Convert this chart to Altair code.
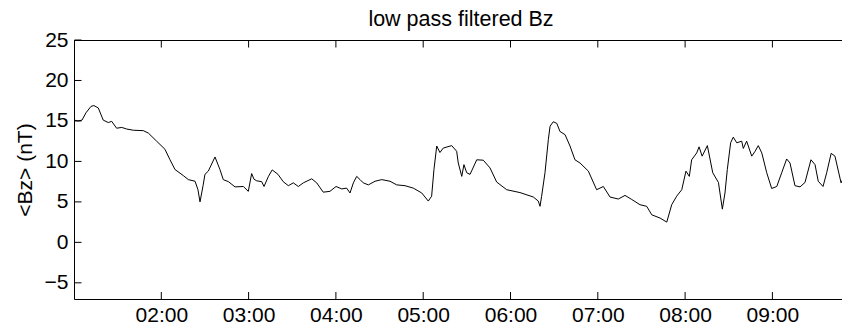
import altair as alt
import pandas as pd

# minutes after 01:00
minutes = [0.3, 2.7, 5.5, 8.2, 11.7, 13.7, 16.7, 20.1, 23.6, 25.9, 29.3, 32.8, 36.2, 40.8,
           47.6, 51.1, 56.8, 62.5, 66.0, 69.4, 75.1, 78.6, 83.2, 85.2, 86.6, 88.7, 90.0,
           92.3, 96.9, 100.3, 102.6, 106.1, 110.7, 116.4, 119.8, 122.1, 123.7, 125.6,
           129.0, 130.6, 133.5, 136.2, 140.2, 143.8, 147.3, 150.7, 154.2, 157.6, 163.4,
           166.8, 171.3, 175.9, 180.1, 184.0, 187.4, 189.7, 192.0, 194.3, 196.6, 198.8,
           202.3, 206.9, 211.5, 217.2, 221.8, 227.5, 233.2, 239.0, 243.5, 245.8, 247.4,
           249.3, 251.5, 253.8, 259.6, 263.0, 264.1, 266.5, 268.0, 269.9, 272.2, 276.8,
           281.3, 285.9, 290.5, 297.4, 306.5, 315.7, 319.1, 320.3, 321.4, 323.7, 326.0,
           327.2, 329.4, 331.8, 334.0, 337.5, 340.9, 344.3, 347.8, 353.5, 359.2, 363.8,
           368.4, 374.1, 378.7, 383.3, 389.0, 393.6, 397.1, 402.8, 407.4, 410.8, 414.2,
           417.7, 420.6, 422.9, 424.5, 428.0, 429.6, 431.7, 435.3, 439.0, 442.9, 445.6,
           447.4, 449.0, 451.3, 453.1, 455.5, 458.9, 460.0, 462.3, 465.8, 468.1, 470.3,
           472.7, 476.1, 479.5, 483.0, 486.4, 489.8, 492.1, 495.5, 499.0, 502.4, 506.5,
           509.3, 511.5, 514.8, 517.3, 520.4, 523.0, 527.2, 530.6, 533.0]
bz = [15.1, 15.0, 15.1, 16.0, 16.8, 16.9, 16.6, 15.1, 14.8, 14.95, 14.1, 14.2, 14.0, 13.85,
      13.8, 13.5, 12.5, 11.5, 10.2, 9.0, 8.25, 7.75, 7.55, 6.5, 5.0, 7.0, 8.4,
      8.8, 10.55, 9.0, 7.75, 7.5, 6.85, 6.9, 6.3, 8.5, 7.8, 7.6,
      7.5, 6.9, 8.1, 8.95, 8.4, 7.5, 7.0, 7.35, 6.9, 7.35, 7.85,
      7.35, 6.2, 6.3, 6.9, 6.6, 6.7, 6.1, 7.35, 8.15, 7.75, 7.35,
      7.1, 7.55, 7.75, 7.55, 7.1, 7.0, 6.7, 6.1, 5.1, 5.7, 9.0,
      11.9, 11.1, 11.65, 11.95, 11.25, 9.8, 8.15, 9.6, 8.6, 8.4, 10.2,
      10.15, 9.2, 7.45, 6.5, 6.15, 5.6, 5.1, 4.45, 5.7, 8.6, 12.7,
      14.35, 14.9, 14.7, 13.7, 13.3, 11.9, 10.2, 9.8, 8.8, 6.5, 6.9,
      5.6, 5.35, 5.8, 5.3, 4.65, 4.45, 3.4, 3.0, 2.5, 4.65, 5.7,
      6.5, 8.8, 8.15, 10.2, 11.05, 11.8, 10.65, 11.95, 8.6, 7.4, 4.1,
      6.1, 9.0, 12.3, 13.0, 12.3, 12.5, 11.6, 12.5, 10.65, 11.25, 11.95,
      11.05, 8.6, 6.65, 6.9, 8.6, 10.3, 9.8, 7.0, 6.85, 7.4, 10.2,
      9.6, 7.55, 6.9, 8.6, 11.0, 10.65, 7.35, 8.6, 10.0]

x_tick_hours = [2, 3, 4, 5, 6, 7, 8, 9]
y_ticks = [-5, 0, 5, 10, 15, 20, 25]

base = pd.Timestamp("2000-01-01 01:00:00")
df = pd.DataFrame({"time": base + pd.to_timedelta(minutes, unit="m"), "bz": bz})
xt = pd.DataFrame({"time": [base + pd.Timedelta(hours=h - 1) for h in x_tick_hours]})
yt = pd.DataFrame({"bz": y_ticks})

W, H = 768, 259
FONT = "Liberation Sans"

xscale = alt.Scale(domain=[alt.DateTime(year=2000, month=1, date=1, hours=1),
                           alt.DateTime(year=2000, month=1, date=1, hours=9, minutes=47, seconds=50)],
                   nice=False)
yscale = alt.Scale(domain=[-7, 25], nice=False)

line = alt.Chart(df).mark_line(color="black", strokeWidth=1).encode(
    x=alt.X("time:T", scale=xscale, title=None,
            axis=alt.Axis(values=[alt.DateTime(year=2000, month=1, date=1, hours=h) for h in x_tick_hours],
                          format="%H:%M", ticks=False, tickSize=0, labelPadding=5, grid=False,
                          domainColor="black", labelFont=FONT, labelFontSize=21,
                          labelColor="black", labelFlush=False)),
    y=alt.Y("bz:Q", scale=yscale, title="<Bz> (nT)",
            axis=alt.Axis(values=y_ticks, ticks=False, tickSize=0, labelPadding=6, grid=False,
                          domainColor="black", labelFont=FONT, labelFontSize=21,
                          labelColor="black", titleFont=FONT, titleFontSize=21,
                          titleFontWeight="normal", titleColor="black", titlePadding=9)),
)

xticks_bottom = alt.Chart(xt).mark_rule(color="black", strokeWidth=1).encode(
    x=alt.X("time:T", scale=xscale, axis=None), y=alt.value(H), y2=alt.value(H - 7))
xticks_top = alt.Chart(xt).mark_rule(color="black", strokeWidth=1).encode(
    x=alt.X("time:T", scale=xscale, axis=None), y=alt.value(0.5), y2=alt.value(7.5))
yticks = alt.Chart(yt).mark_rule(color="black", strokeWidth=1).encode(
    y=alt.Y("bz:Q", scale=yscale, axis=None), x=alt.value(0.5), x2=alt.value(7.5))
top_line = alt.Chart(yt).mark_rule(color="black", strokeWidth=1).encode(
    x=alt.value(0), x2=alt.value(W + 10), y=alt.value(0.5))

chart = alt.layer(line, xticks_bottom, xticks_top, yticks, top_line).resolve_axis(
    x="independent", y="independent"
).properties(
    width=W, height=H,
    title=alt.TitleParams("low pass filtered Bz", font=FONT, fontSize=21.5, fontWeight="normal",
                          color="black", offset=1, dx=3, dy=2),
    autosize=alt.AutoSizeParams(type="none"),
    padding={"left": 66, "top": 32, "right": 0, "bottom": 28},
).configure_view(strokeOpacity=0).configure(background="white")

chart.save("out.html", embed_options={"renderer": "svg", "actions": False})
